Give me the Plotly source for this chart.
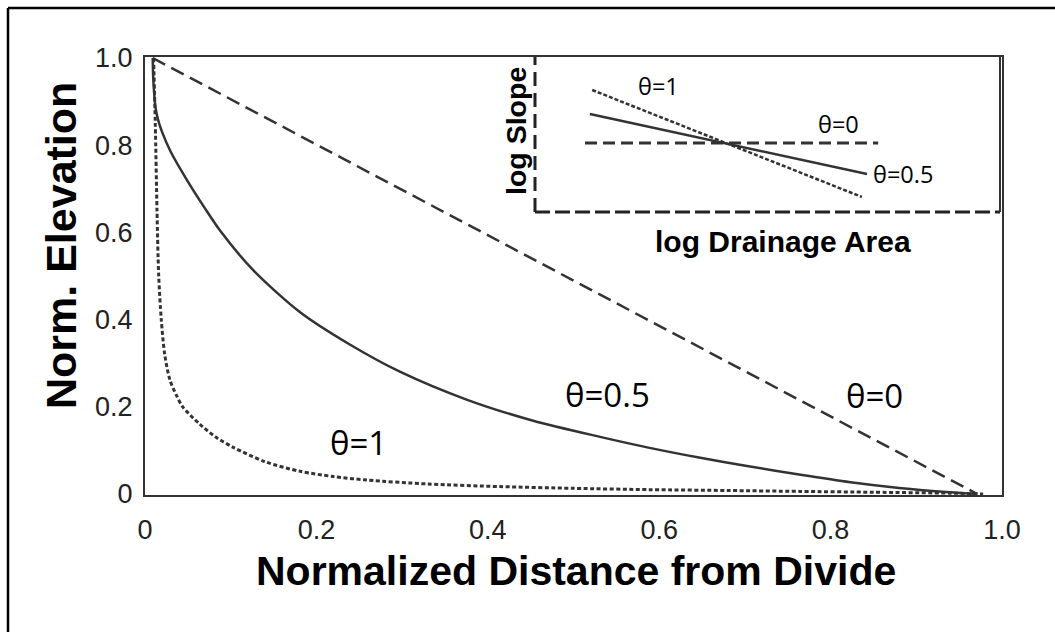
import plotly.graph_objects as go

# Normalised long profiles for three concavity indices
dist_theta0 = [0.009, 0.971]
elev_theta0 = [1.0, 0.0]

dist_theta05 = [0.009, 0.0095, 0.0105, 0.012, 0.015, 0.020, 0.030, 0.049, 0.070, 0.088,
                0.126, 0.181, 0.239, 0.298, 0.376, 0.453, 0.531, 0.586, 0.648, 0.706,
                0.765, 0.823, 0.880, 0.939, 0.971]
elev_theta05 = [1.0, 0.96, 0.925, 0.89, 0.86, 0.83, 0.785, 0.72, 0.655, 0.603,
                0.514, 0.417, 0.343, 0.280, 0.216, 0.168, 0.131, 0.107, 0.083, 0.063,
                0.044, 0.027, 0.014, 0.004, 0.0]

dist_theta1 = [0.010, 0.012, 0.014, 0.016, 0.019, 0.023, 0.029, 0.037, 0.044, 0.064,
               0.083, 0.103, 0.140, 0.181, 0.220, 0.259, 0.330, 0.414, 0.500, 0.589,
               0.680, 0.764, 0.850, 0.939, 0.978]
elev_theta1 = [1.0, 0.85, 0.65, 0.50, 0.40, 0.32, 0.262, 0.225, 0.200, 0.160,
               0.130, 0.107, 0.074, 0.052, 0.040, 0.032, 0.023, 0.017, 0.013, 0.010,
               0.008, 0.006, 0.004, 0.002, 0.0]

# Slope-area sketch (arbitrary log units)
logA_theta0 = [0.1075, 0.738]
logS_theta0 = [0.445, 0.445]
logA_theta05 = [0.118, 0.714]
logS_theta05 = [0.632, 0.245]
logA_theta1 = [0.123, 0.703]
logS_theta1 = [0.787, 0.097]

x_tickvals = [0, 0.2, 0.4, 0.6, 0.8, 1.0]
x_ticktext = ["0", "0.2", "0.4", "0.6", "0.8", "1.0"]
y_tickvals = [0, 0.2, 0.4, 0.6, 0.8, 1.0]
y_ticktext = ["0", "0.2", "0.4", "0.6", "0.8", "1.0"]

W, H = 1055, 632
L, R, T, B = 145, 53, 57, 137
PW, PH = W - L - R, H - T - B


def px(x):
    return (x - L) / PW


def py(y):
    return (H - B - y) / PH


INK = "#333333"
fig = go.Figure()

fig.add_trace(go.Scatter(x=dist_theta0, y=elev_theta0, mode="lines",
                         line=dict(color=INK, width=2.5, dash="14px,7px"), xaxis="x", yaxis="y"))
fig.add_trace(go.Scatter(x=dist_theta05, y=elev_theta05, mode="lines", line_shape="spline",
                         line=dict(color=INK, width=2.5, smoothing=0.8), xaxis="x", yaxis="y"))
fig.add_trace(go.Scatter(x=dist_theta1, y=elev_theta1, mode="lines", line_shape="spline",
                         line=dict(color=INK, width=3, dash="4px,2.5px", smoothing=0.8),
                         xaxis="x", yaxis="y"))

fig.add_trace(go.Scatter(x=logA_theta0, y=logS_theta0, mode="lines",
                         line=dict(color=INK, width=3, dash="12px,6px"), xaxis="x2", yaxis="y2"))
fig.add_trace(go.Scatter(x=logA_theta05, y=logS_theta05, mode="lines",
                         line=dict(color=INK, width=2.5), xaxis="x2", yaxis="y2"))
fig.add_trace(go.Scatter(x=logA_theta1, y=logS_theta1, mode="lines",
                         line=dict(color=INK, width=2.5, dash="4px,2px"), xaxis="x2", yaxis="y2"))

tick_font = dict(family="Liberation Sans, Arial, sans-serif", size=27, color="#222222")

inset_x0, inset_x1 = px(535), px(1000)
inset_y0, inset_y1 = py(212), 1.0

fig.update_layout(
    width=W, height=H,
    margin=dict(l=L, r=R, t=T, b=B),
    paper_bgcolor="white", plot_bgcolor="white",
    showlegend=False,
    xaxis=dict(range=[0, 1.0], domain=[0, 1], tickvals=x_tickvals, ticktext=x_ticktext,
               showgrid=False, zeroline=False, showline=True, mirror=True,
               linecolor=INK, linewidth=2, ticks="outside", ticklen=10,
               tickcolor="rgba(0,0,0,0)", tickfont=tick_font),
    yaxis=dict(range=[-0.0023, 1.0023], domain=[0, 1], tickvals=y_tickvals, ticktext=y_ticktext,
               showgrid=False, zeroline=False, showline=True, mirror=True,
               linecolor=INK, linewidth=2, ticks="outside", ticklen=5,
               tickcolor="rgba(0,0,0,0)", tickfont=tick_font),
    xaxis2=dict(range=[0, 1], domain=[inset_x0, inset_x1], anchor="y2",
                showgrid=False, zeroline=False, showline=False, showticklabels=False, ticks=""),
    yaxis2=dict(range=[0, 1], domain=[inset_y0, inset_y1], anchor="x2",
                showgrid=False, zeroline=False, showline=False, showticklabels=False, ticks=""),
)

shapes = [
    # inset panel background
    dict(type="rect", xref="x2 domain", yref="y2 domain", x0=0, x1=1, y0=0, y1=1,
         fillcolor="#ebebeb", line=dict(width=0), layer="below"),
    # inset axes, dashed
    dict(type="line", xref="x2 domain", yref="y2 domain", x0=0, x1=0, y0=0, y1=1,
         line=dict(color="#222222", width=3, dash="14px,7px")),
    dict(type="line", xref="x2 domain", yref="y2 domain", x0=0, x1=1, y0=0, y1=0,
         line=dict(color="#222222", width=3, dash="15px,5px")),
    dict(type="line", xref="x2 domain", yref="y2 domain", x0=1, x1=1, y0=0, y1=1,
         line=dict(color=INK, width=2)),
    # outer frame
    dict(type="line", xref="paper", yref="paper", x0=px(8), x1=px(8), y0=py(8), y1=py(640),
         line=dict(color="black", width=2.5)),
    dict(type="line", xref="paper", yref="paper", x0=px(8), x1=px(1060), y0=py(8), y1=py(8),
         line=dict(color="black", width=2.5)),
]
fig.update_layout(shapes=shapes)

label_font = dict(family="Open Sans, sans-serif", size=33, color="black")
inset_font = dict(family="Open Sans, sans-serif", size=23.5, color="black")
title_font = dict(family="Liberation Sans, Arial, sans-serif", size=41, color="black")
ytitle_font = dict(family="Liberation Sans, Arial, sans-serif", size=43, color="black")
inset_xtitle_font = dict(family="Liberation Sans, Arial, sans-serif", size=30, color="black")
inset_ytitle_font = dict(family="Liberation Sans, Arial, sans-serif", size=28.5, color="black")


def note(text, x, y, font, angle=0):
    fig.add_annotation(text=text, xref="paper", yref="paper", x=px(x), y=py(y),
                       xanchor="center", yanchor="middle", showarrow=False,
                       font=font, textangle=angle)


note("θ=1", 358, 442, label_font)
note("θ=0.5", 607, 394, label_font)
note("θ=0", 874, 395, label_font)
note("θ=1", 658, 86, inset_font)
note("θ=0", 838, 124, inset_font)
note("θ=0.5", 903, 174, inset_font)
note("<b>Normalized Distance from Divide</b>", 576, 571, title_font)
note("<b>Norm. Elevation</b>", 61, 246, ytitle_font, angle=-90)
note("<b>log Drainage Area</b>", 783, 241, inset_xtitle_font)
note("<b>log Slope</b>", 516, 131, inset_ytitle_font, angle=-90)

fig.write_html("out.html")
